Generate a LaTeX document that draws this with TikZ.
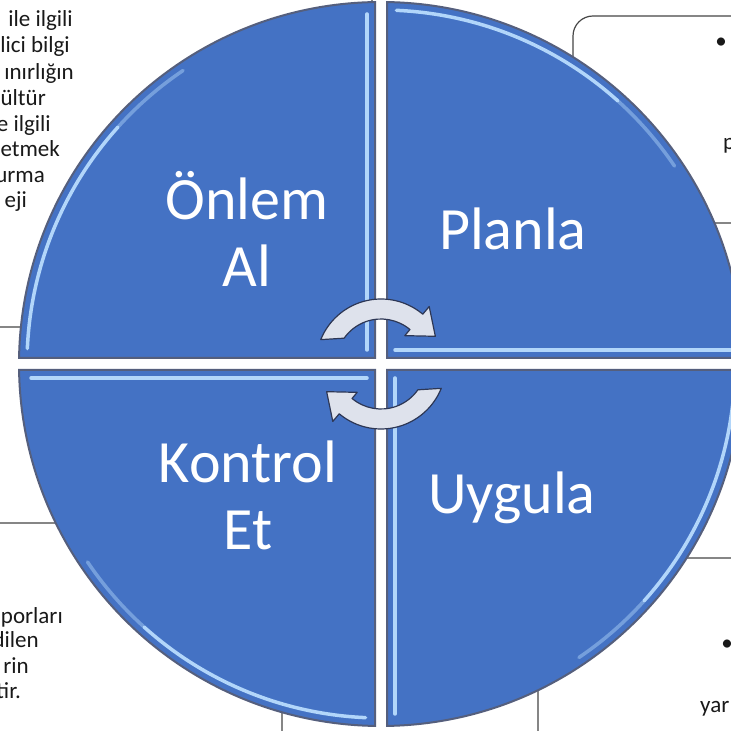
\documentclass[tikz,border=0pt]{standalone}
\usepackage{fontspec}
\setmainfont{Carlito}
\usetikzlibrary{calc}
\definecolor{ink}{RGB}{25,25,25}
\definecolor{qblue}{RGB}{68,114,196}
\definecolor{qedge}{RGB}{85,95,125}
\definecolor{glint}{RGB}{178,214,250}
\definecolor{turnfill}{RGB}{222,226,236}
\definecolor{turnline}{RGB}{45,55,85}
\definecolor{boxline}{RGB}{70,70,70}
\tikzset{
  quad/.style={fill=qblue,draw=qedge,line width=2pt},
  shine/.style={draw=glint,line width=3.5pt,line cap=round},
  turn/.style={fill=turnfill,draw=turnline,line width=1.2pt,line join=round},
  frame/.style={draw=boxline,line width=1.2pt,rounded corners=20pt},
  lbl/.style={text=white,font=\fontsize{60}{67}\selectfont,align=center,inner sep=0pt},
  note/.style={text=ink,font=\fontsize{23}{26}\selectfont,inner sep=0pt},
}

\begin{document}
\begin{tikzpicture}[x=1pt,y=1pt]
\useasboundingbox (0,0) rectangle (731,731);
\fill[white] (0,0) rectangle (731,731);
\coordinate (C) at (381,367);
% text boxes behind the wheel
\draw[frame] (-40,404) rectangle (372,771);
\draw[frame] (-40,-40) rectangle (282,208);
\draw[frame] (538,-40) rectangle (800,173);
\draw[frame] (573,508) rectangle (800,715);
\foreach \t/\x/\y [count=\i] in {ile ilgili/73/704,lici bilgi/70/678,ınırlığın/74/651,
    ültür/46/625,e ilgili/51/599,etmek/60/574,urma/45/548,eji/27/523}
  \node[note,anchor=base east] (tl\i) at (\x,\y) {\t};
\foreach \t/\x/\y [count=\i] in {porları/63/107,dilen/39/83,rin/29/57,tir./21/32}
  \node[note,anchor=base east] (bl\i) at (\x,\y) {\t};
\node[note] (dotA) at (721,688) {•};
\node[note,anchor=base west] (pA) at (723,581) {p};
\node[note] (dotB) at (727,86) {•};
\node[note,anchor=base west] (yar) at (700,18) {yar};
% the four quarters
\foreach \r in {0,90,180,270}{
  \begin{scope}[shift={(C)},rotate=\r]
    \path[quad] (6,6) -- (0.95:362) arc[start angle=0.95,end angle=89.05,radius=362] -- cycle;
    \draw[shine] (14,14) -- (350,14);
    \draw[shine] (87.5:354) arc[start angle=87.5,end angle=48,radius=354];
    \draw[shine,draw opacity=.45] (48:354) arc[start angle=48,end angle=34,radius=354];
  \end{scope}
}
% turning arrows in the middle
\foreach \r in {0,180}
  \filldraw[turn,shift={(C)},rotate=\r] (158:65) arc[start angle=158,end angle=50,radius=65]
    -- (50:75) -- (27:61) -- (50:37) -- (50:45) arc[start angle=50,end angle=145,radius=45] -- cycle;
\node[lbl] (onlem) at (247,502) {Önlem\\Al};
\node[lbl,anchor=base] (planla) at (513,481) {Planla};
\node[lbl] (kontrol) at (248,236) {Kontrol\\Et};
\node[lbl,anchor=base] (uygula) at (512,217) {Uygula};
\end{tikzpicture}
\end{document}
